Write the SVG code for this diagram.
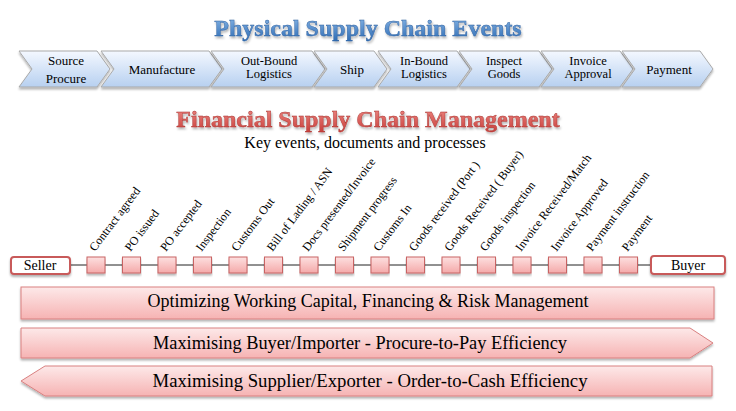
<svg xmlns="http://www.w3.org/2000/svg" width="736" height="411" viewBox="0 0 736 411">
<defs>
  <linearGradient id="gBlue" x1="0" y1="0" x2="0" y2="1">
    <stop offset="0" stop-color="#f4f8ff"/>
    <stop offset="1" stop-color="#b7d0f0"/>
  </linearGradient>
  <linearGradient id="gPink" x1="0" y1="0" x2="0" y2="1">
    <stop offset="0" stop-color="#fde9e9"/>
    <stop offset="1" stop-color="#f6b3b3"/>
  </linearGradient>
  <linearGradient id="gSq" x1="0" y1="0" x2="0" y2="1">
    <stop offset="0" stop-color="#fde0e0"/>
    <stop offset="1" stop-color="#f4a9a9"/>
  </linearGradient>
  <linearGradient id="gTitleBlue" x1="0" y1="0" x2="0" y2="1">
    <stop offset="0" stop-color="#8ab8e8"/>
    <stop offset="1" stop-color="#2f6cb4"/>
  </linearGradient>
  <linearGradient id="gTitleRed" x1="0" y1="0" x2="0" y2="1">
    <stop offset="0" stop-color="#f08a86"/>
    <stop offset="1" stop-color="#c8403c"/>
  </linearGradient>
  <filter id="shadow" x="-5%" y="-20%" width="110%" height="150%">
    <feDropShadow dx="0" dy="2" stdDeviation="1.2" flood-color="#000" flood-opacity="0.3"/>
  </filter>
  <filter id="tshadow" x="-5%" y="-30%" width="110%" height="160%">
    <feDropShadow dx="1" dy="2" stdDeviation="1" flood-color="#000" flood-opacity="0.3"/>
  </filter>
</defs>
<style>
  .chev { fill: url(#gBlue); stroke: #a9a9a9; stroke-width: 1; filter: url(#shadow); }
  .ct { font-family: "Liberation Serif", "Times New Roman", serif; font-size: 13px; fill: #000; text-anchor: middle; }
  .ct2 { font-family: "Liberation Serif", "Times New Roman", serif; font-size: 12.5px; fill: #000; text-anchor: middle; }
  .title { font-family: "Liberation Serif", "Times New Roman", serif; font-size: 24px; font-weight: bold; text-anchor: middle; filter: url(#tshadow); }
  .sub { font-family: "Liberation Serif", "Times New Roman", serif; font-size: 16px; fill: #000; text-anchor: middle; }
  .sq { fill: url(#gSq); stroke: #c96464; stroke-width: 1; filter: url(#shadow); }
  .lbl { font-family: "Liberation Serif", "Times New Roman", serif; font-size: 12px; fill: #000; }
  .end { fill: #fff; stroke: #c85a5a; stroke-width: 2; filter: url(#shadow); }
  .et { font-family: "Liberation Serif", "Times New Roman", serif; font-size: 14px; fill: #000; text-anchor: middle; }
  .bar { fill: url(#gPink); stroke: #d98080; stroke-width: 1; filter: url(#shadow); }
  .bt { font-family: "Liberation Serif", "Times New Roman", serif; font-size: 18px; fill: #000; text-anchor: middle; }
</style>

<text class="title" x="368" y="36" fill="url(#gTitleBlue)" stroke="#2d5f9e" stroke-width="0.4">Physical Supply Chain Events</text>

<g id="chevrons">
  <g id="c-source"><path class="chev" d="M19,51 L97,51 L110,69 L97,87 L19,87 L32,69 Z"/><text class="ct" x="66" y="65">Source</text><text class="ct" x="66" y="83">Procure</text></g>
  <g id="c-manufacture"><path class="chev" d="M101,51 L209,51 L222,69 L209,87 L101,87 L114,69 Z"/><text class="ct" x="162" y="74">Manufacture</text></g>
  <g id="c-outbound"><path class="chev" d="M211,51 L312,51 L325,69 L312,87 L211,87 L224,69 Z"/><text class="ct2" x="269" y="65">Out-Bound</text><text class="ct2" x="269" y="78">Logistics</text></g>
  <g id="c-ship"><path class="chev" d="M314,51 L374,51 L387,69 L374,87 L314,87 L327,69 Z"/><text class="ct" x="352" y="74">Ship</text></g>
  <g id="c-inbound"><path class="chev" d="M378,51 L457,51 L470,69 L457,87 L378,87 L391,69 Z"/><text class="ct2" x="424" y="65">In-Bound</text><text class="ct2" x="424" y="78">Logistics</text></g>
  <g id="c-inspect"><path class="chev" d="M459,51 L539,51 L552,69 L539,87 L459,87 L472,69 Z"/><text class="ct2" x="504" y="65">Inspect</text><text class="ct2" x="504" y="78">Goods</text></g>
  <g id="c-invoice"><path class="chev" d="M541,51 L620,51 L633,69 L620,87 L541,87 L554,69 Z"/><text class="ct2" x="588" y="65">Invoice</text><text class="ct2" x="588" y="78">Approval</text></g>
  <g id="c-payment"><path class="chev" d="M622,51 L700,51 L713,69 L700,87 L622,87 L635,69 Z"/><text class="ct" x="669" y="74">Payment</text></g>
</g>

<text class="title" x="368" y="127" fill="url(#gTitleRed)" stroke="#a83430" stroke-width="0.4">Financial Supply Chain Management</text>
<text class="sub" x="365" y="148">Key events, documents and processes</text>

<g id="connectors">
  <line x1="70" y1="265" x2="651" y2="265" stroke="#222" stroke-width="1"/>
</g>

<g id="seller"><rect class="end" x="11" y="257" width="59" height="17" rx="3"/><text class="et" x="40" y="270">Seller</text></g>
<g id="buyer"><rect class="end" x="651" y="256" width="74" height="18" rx="3"/><text class="et" x="688" y="270">Buyer</text></g>

<g id="events">
  <g id="e1"><rect class="sq" x="87" y="257" width="18" height="16"/><text class="lbl" transform="translate(95,252) rotate(-53)">Contract agreed</text></g>
  <g id="e2"><rect class="sq" x="122.5" y="257" width="18" height="16"/><text class="lbl" transform="translate(130.5,252) rotate(-53)">PO issued</text></g>
  <g id="e3"><rect class="sq" x="158" y="257" width="18" height="16"/><text class="lbl" transform="translate(166,252) rotate(-53)">PO accepted</text></g>
  <g id="e4"><rect class="sq" x="193.5" y="257" width="18" height="16"/><text class="lbl" transform="translate(201.5,252) rotate(-53)">Inspection</text></g>
  <g id="e5"><rect class="sq" x="229" y="257" width="18" height="16"/><text class="lbl" transform="translate(237,252) rotate(-53)">Customs Out</text></g>
  <g id="e6"><rect class="sq" x="264.5" y="257" width="18" height="16"/><text class="lbl" transform="translate(272.5,252) rotate(-53)">Bill of Lading / ASN</text></g>
  <g id="e7"><rect class="sq" x="300" y="257" width="18" height="16"/><text class="lbl" transform="translate(308,252) rotate(-53)">Docs presented/Invoice</text></g>
  <g id="e8"><rect class="sq" x="335.5" y="257" width="18" height="16"/><text class="lbl" transform="translate(343.5,252) rotate(-53)">Shipment progress</text></g>
  <g id="e9"><rect class="sq" x="371" y="257" width="18" height="16"/><text class="lbl" transform="translate(379,252) rotate(-53)">Customs In</text></g>
  <g id="e10"><rect class="sq" x="406.5" y="257" width="18" height="16"/><text class="lbl" transform="translate(414.5,252) rotate(-53)">Goods received (Port )</text></g>
  <g id="e11"><rect class="sq" x="442" y="257" width="18" height="16"/><text class="lbl" transform="translate(450,252) rotate(-53)">Goods Received ( Buyer)</text></g>
  <g id="e12"><rect class="sq" x="477.5" y="257" width="18" height="16"/><text class="lbl" transform="translate(485.5,252) rotate(-53)">Goods inspection</text></g>
  <g id="e13"><rect class="sq" x="513" y="257" width="18" height="16"/><text class="lbl" transform="translate(521,252) rotate(-53)">Invoice Received/Match</text></g>
  <g id="e14"><rect class="sq" x="548.5" y="257" width="18" height="16"/><text class="lbl" transform="translate(556.5,252) rotate(-53)">Invoice Approved</text></g>
  <g id="e15"><rect class="sq" x="584" y="257" width="18" height="16"/><text class="lbl" transform="translate(592,252) rotate(-53)">Payment instruction</text></g>
  <g id="e16"><rect class="sq" x="619.5" y="257" width="18" height="16"/><text class="lbl" transform="translate(627.5,252) rotate(-53)">Payment</text></g>
</g>

<g id="bar-working-capital"><rect class="bar" x="21" y="287" width="693" height="32"/><text class="bt" x="368" y="307" textLength="441" lengthAdjust="spacingAndGlyphs">Optimizing Working Capital, Financing &amp; Risk Management</text></g>
<g id="bar-procure-to-pay"><path class="bar" d="M21,328 L690,328 L713,343 L690,358 L21,358 Z"/><text class="bt" x="360" y="349" textLength="414" lengthAdjust="spacingAndGlyphs">Maximising Buyer/Importer - Procure-to-Pay Efficiency</text></g>
<g id="bar-order-to-cash"><path class="bar" d="M45,366 L712,366 L712,396 L45,396 L21,381 Z"/><text class="bt" x="370" y="387" textLength="435" lengthAdjust="spacingAndGlyphs">Maximising Supplier/Exporter - Order-to-Cash Efficiency</text></g>
</svg>
